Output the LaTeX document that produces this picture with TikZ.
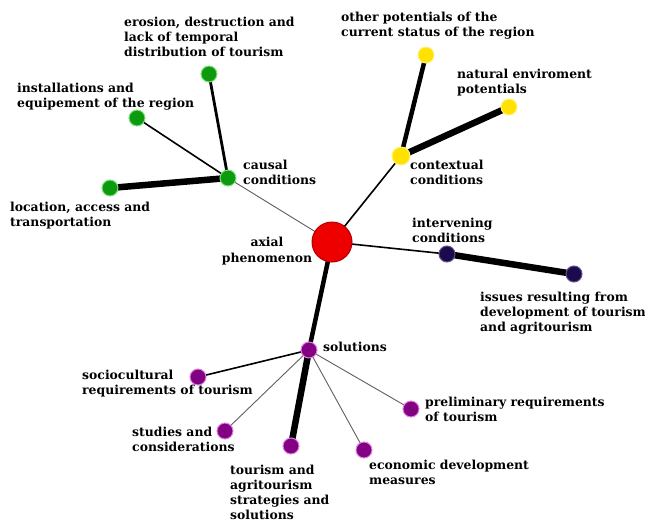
\documentclass[tikz,border=0pt]{standalone}
\usepackage{fontspec}
\setmainfont{DejaVu Serif}
\pgfdeclarelayer{background}
\pgfsetlayers{background,main}
\definecolor{cgreen}{HTML}{0E9A0E}
\definecolor{cgreenglow}{HTML}{7FE07F}
\definecolor{cyellow}{HTML}{FFE200}
\definecolor{cyellowglow}{HTML}{FFF27A}
\definecolor{cred}{HTML}{EE0000}
\definecolor{credring}{HTML}{B00000}
\definecolor{cnavy}{HTML}{1C0A4E}
\definecolor{cpurple}{HTML}{820082}
\definecolor{cpurpleglow}{HTML}{E080E0}
\definecolor{cgray}{HTML}{606060}
\begin{document}
\begin{tikzpicture}[x=1pt,y=-1pt,
  dot/.style={circle, inner sep=0pt, minimum size=16pt, line width=1pt},
  gdot/.style={dot, fill=cgreen, draw=cgreenglow},
  ydot/.style={dot, fill=cyellow, draw=cyellowglow},
  ndot/.style={dot, fill=cnavy, draw=cnavy!70},
  pdot/.style={dot, fill=cpurple, draw=cpurpleglow},
  rdot/.style={circle, inner sep=0pt, minimum size=40pt, fill=cred, draw=credring, line width=1pt},
  lbl/.style={font=\bfseries\fontsize{12.4}{15}\selectfont, align=left, inner sep=0pt, anchor=north west},
  lblc/.style={font=\bfseries\fontsize{12.4}{15.5}\selectfont, align=center, inner sep=0pt, anchor=north},
  wa/.style={draw=cgray, line width=0.9pt},
  wb/.style={draw=black, line width=1.6pt},
  wc/.style={draw=black, line width=2.8pt},
  wd/.style={draw=black, line width=4.5pt},
  we/.style={draw=black, line width=6.5pt}]
\useasboundingbox (0,0) rectangle (645,522);

% nodes
\node[rdot] (axial) at (332,242) {};
\node[gdot] (causal) at (228,178) {};
\node[gdot] (loc) at (110,188) {};
\node[gdot] (inst) at (137,118) {};
\node[gdot] (eros) at (209,74) {};
\node[ydot, minimum size=18pt] (ctx) at (401,156) {};
\node[ydot] (other) at (426,55) {};
\node[ydot] (nat) at (509,107) {};
\node[ndot] (interv) at (447,254) {};
\node[ndot] (issues) at (574,274) {};
\node[pdot] (sol) at (309,350) {};
\node[pdot] (socio) at (198,377) {};
\node[pdot] (stud) at (225,431) {};
\node[pdot] (strat) at (291,446) {};
\node[pdot] (econ) at (364,450) {};
\node[pdot] (prel) at (411,409) {};

% edges
\begin{pgfonlayer}{background}
\fill[white] (0,0) rectangle (645,522);
\draw[wa] (causal.center) -- (axial.center);
\draw[we] (causal.center) -- (loc.center);
\draw[wb] (causal.center) -- (inst.center);
\draw[wc] (causal.center) -- (eros.center);
\draw[wb] (axial.center) -- (ctx.center);
\draw[wd] (ctx.center) -- (other.center);
\draw[we] (ctx.center) -- (nat.center);
\draw[wb] (axial.center) -- (interv.center);
\draw[we] (interv.center) -- (issues.center);
\draw[wd] (axial.center) -- (sol.center);
\draw[wb] (sol.center) -- (socio.center);
\draw[wa] (sol.center) -- (stud.center);
\draw[we] (sol.center) -- (strat.center);
\draw[wa] (sol.center) -- (econ.center);
\draw[wa] (sol.center) -- (prel.center);
\end{pgfonlayer}

% labels
\node[lbl] (t-eros) at (124,17) {erosion, destruction and\\lack of temporal\\distribution of tourism};
\node[lbl] (t-inst) at (17,83) {installations and\\equipement of the region};
\node[lbl] (t-causal) at (243,160) {causal\\conditions};
\node[lbl] (t-loc) at (10,202) {location, access and\\transportation};
\node[lblc] (t-axial) at (267,237) {axial\\phenomenon};
\node[lbl] (t-other) at (341,12) {other potentials of the\\current status of the region};
\node[lbl] (t-nat) at (457,69) {natural enviroment\\potentials};
\node[lbl] (t-ctx) at (410,160) {contextual\\conditions};
\node[lbl] (t-interv) at (412,218) {intervening\\conditions};
\node[lbl] (t-issues) at (480,292) {issues resulting from\\development of tourism\\and agritourism};
\node[lbl] (t-sol) at (323,342) {solutions};
\node[lbl] (t-socio) at (82,370) {sociocultural\\requirements of tourism};
\node[lbl] (t-stud) at (132,427) {studies and\\considerations};
\node[lbl] (t-strat) at (230,465) {tourism and\\agritourism\\strategies and\\solutions};
\node[lbl] (t-econ) at (369,460) {economic development\\measures};
\node[lbl] (t-prel) at (425,397) {preliminary requirements\\of tourism};
\end{tikzpicture}
\end{document}
